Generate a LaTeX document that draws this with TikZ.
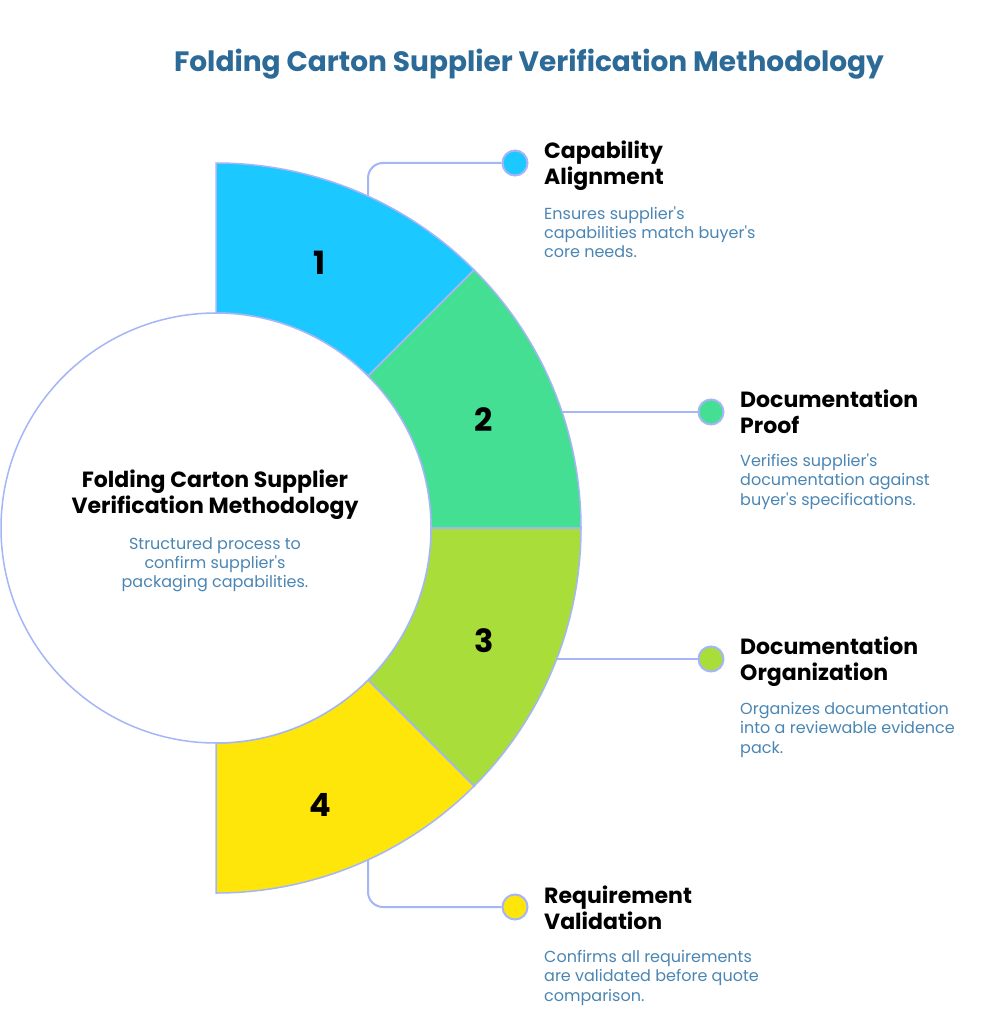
\documentclass[tikz,border=0pt]{standalone}
\usepackage{fontspec}
\setmainfont{Poppins}
\newcommand{\ap}{\textquotesingle}
\definecolor{ringborder}{HTML}{A4B6F7}
\definecolor{cA}{HTML}{1BC8FF}
\definecolor{cB}{HTML}{45DF93}
\definecolor{cC}{HTML}{A8DD3A}
\definecolor{cD}{HTML}{FFE60A}
\definecolor{titleblue}{HTML}{2C6A98}
\definecolor{descblue}{HTML}{4A86B4}
\begin{document}
\begin{tikzpicture}[x=1pt,y=-1pt,
  seg/.style={draw=ringborder,line width=1.5pt},
  conn/.style={draw=ringborder,line width=2pt,rounded corners=15pt},
  dot/.style={circle,draw=ringborder,line width=2pt,minimum size=25pt,inner sep=0pt},
  num/.style={font=\fontsize{32}{32}\selectfont\bfseries},
  head/.style={anchor=base west,align=left,inner sep=0pt,font=\fontsize{22}{26}\selectfont\bfseries},
  desc/.style={anchor=base west,align=left,inner sep=0pt,text=descblue,font=\fontsize{16}{19.5}\selectfont},
]
\useasboundingbox (0,0) rectangle (999,1024);
\fill[white] (0,0) rectangle (999,1024);

\node[anchor=base,inner sep=0pt,text=titleblue,font=\fontsize{28}{30}\selectfont\bfseries] (title) at (529,72) {Folding Carton Supplier Verification Methodology};

\begin{scope}[shift={(216,528)},y=1pt]
  \filldraw[seg,fill=cA] (90:365) arc[start angle=90,end angle=45,radius=365] -- (45:215) arc[start angle=45,end angle=90,radius=215] -- cycle;
  \filldraw[seg,fill=cB] (45:365) arc[start angle=45,end angle=0,radius=365] -- (0:215) arc[start angle=0,end angle=45,radius=215] -- cycle;
  \filldraw[seg,fill=cC] (0:365) arc[start angle=0,end angle=-45,radius=365] -- (-45:215) arc[start angle=-45,end angle=0,radius=215] -- cycle;
  \filldraw[seg,fill=cD] (-45:365) arc[start angle=-45,end angle=-90,radius=365] -- (-90:215) arc[start angle=-90,end angle=-45,radius=215] -- cycle;
\end{scope}

\node[circle,draw=ringborder,line width=1.5pt,fill=white,minimum size=430pt,inner sep=0pt] (hub) at (216,528) {};

\node[num] (n1) at (320,263) {1};
\node[num] (n2) at (484,420) {2};
\node[num] (n3) at (484,641) {3};
\node[num] (n4) at (320,805) {4};

\coordinate (s1) at (368,196);
\coordinate (s2) at (562,412);
\coordinate (s3) at (557,659);
\coordinate (s4) at (368,860);

\node[dot,fill=cA] (d1) at (515,163) {};
\node[dot,fill=cB] (d2) at (711,412) {};
\node[dot,fill=cC] (d3) at (711,659) {};
\node[dot,fill=cD] (d4) at (515,907) {};

\draw[conn] (s1) |- (d1.west);
\draw[conn] (s2) -- (d2.west);
\draw[conn] (s3) -- (d3.west);
\draw[conn] (s4) |- (d4.west);

\node[anchor=base,align=center,inner sep=0pt,font=\fontsize{22}{26}\selectfont\bfseries] (htext) at (215,513) {Folding Carton Supplier\\Verification Methodology};
\node[anchor=base,align=center,inner sep=0pt,text=descblue,font=\fontsize{16}{19}\selectfont] (hdesc) at (215,587) {Structured process to\\confirm supplier\ap s\\packaging capabilities.};

\node[head] (h1) at (544,185) {Capability\\Alignment};
\node[desc] (t1) at (544,258) {Ensures supplier\ap s\\capabilities match buyer\ap s\\core needs.};
\node[head] (h2) at (740,433) {Documentation\\Proof};
\node[desc] (t2) at (740,505) {Verifies supplier\ap s\\documentation against\\buyer\ap s specifications.};
\node[head] (h3) at (740,680) {Documentation\\Organization};
\node[desc] (t3) at (740,753) {Organizes documentation\\into a reviewable evidence\\pack.};
\node[head] (h4) at (544,929) {Requirement\\Validation};
\node[desc] (t4) at (544,1001) {Confirms all requirements\\are validated before quote\\comparison.};
\end{tikzpicture}
\end{document}
